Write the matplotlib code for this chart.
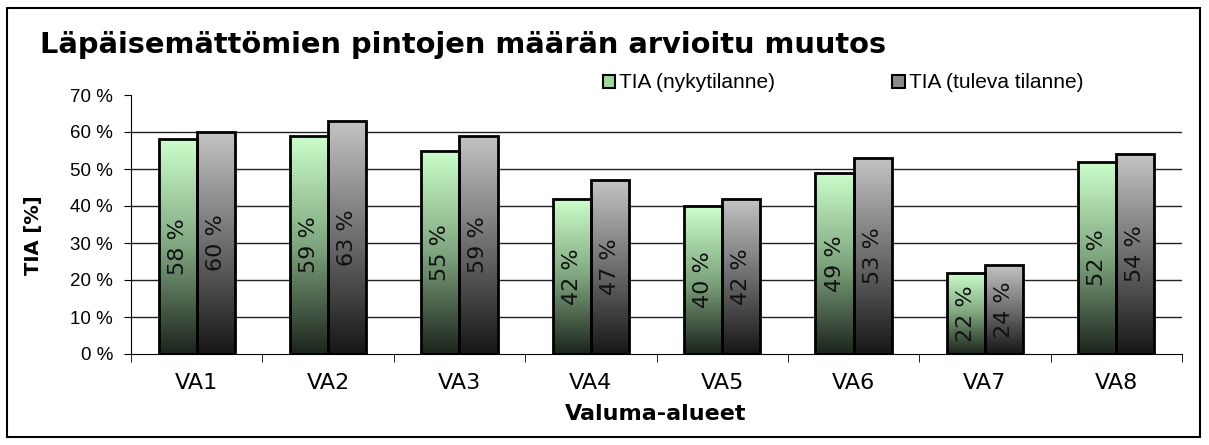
import numpy as np
import matplotlib.pyplot as plt
from matplotlib.colors import LinearSegmentedColormap
from matplotlib.patches import Rectangle

categories = ["VA1", "VA2", "VA3", "VA4", "VA5", "VA6", "VA7", "VA8"]
tia_now = [58, 59, 55, 42, 40, 49, 22, 52]
tia_future = [60, 63, 59, 47, 42, 53, 24, 54]
series_names = ["TIA (nykytilanne)", "TIA (tuleva tilanne)"]

green_cmap = LinearSegmentedColormap.from_list("g", ["#1c241c", "#7fa67f", "#ccffcc"])
gray_cmap = LinearSegmentedColormap.from_list("k", ["#161616", "#6e6e6e", "#c4c4c4"])

W, H = 1209, 445
fig = plt.figure(figsize=(W / 100, H / 100), dpi=100)
ax = fig.add_axes([131 / W, 1 - 354 / H, (1182 - 131) / W, (354 - 95) / H])

# frame around whole chart
fig.patches.append(Rectangle((7 / W, 8 / H), 1193 / W, 429 / H,
                             transform=fig.transFigure, fill=False,
                             edgecolor="black", linewidth=1.5))

x = np.arange(len(categories))
w = 0.29
grad = np.linspace(0, 1, 256).reshape(-1, 1)

def grad_bars(xs, vals, cmap):
    bars = ax.bar(xs, vals, w, facecolor="none", edgecolor="black", linewidth=2, zorder=4)
    for b in bars:
        x0, y0 = b.get_x(), b.get_y()
        im = ax.imshow(grad, cmap=cmap, origin="lower", aspect="auto",
                       extent=[x0, x0 + b.get_width(), y0, y0 + b.get_height()], zorder=3)
        im.set_clip_path(b)
    return bars

b1 = grad_bars(x - w / 2, tia_now, green_cmap)
b2 = grad_bars(x + w / 2, tia_future, gray_cmap)

for bars, vals in ((b1, tia_now), (b2, tia_future)):
    for b, v in zip(bars, vals):
        ax.text(b.get_x() + b.get_width() / 2, v / 2, f"{v} %", rotation=90,
                ha="center", va="center", fontsize=16, color="#111111", zorder=5)

ax.set_xlim(-0.5, len(categories) - 0.5)
ax.set_ylim(0, 70)
for yv in range(10, 70, 10):
    ax.axhline(yv, color="#222222", linewidth=1, zorder=1)

ax.set_yticks(range(0, 71, 10))
ax.set_yticklabels([f"{v} %" for v in range(0, 71, 10)], family="Liberation Sans", fontsize=13.5)
ax.set_xticks(x)
ax.set_xticklabels(categories, fontsize=16)
ax.set_xticks(np.arange(-0.5, len(categories), 1), minor=True)
ax.tick_params(axis="x", which="major", length=0, pad=13.5)
ax.tick_params(axis="x", which="minor", length=6, direction="out", color="black")
ax.tick_params(axis="y", length=5, color="black", pad=8)
ax.spines[["top", "right"]].set_visible(False)

fig.text(656 / W, 1 - 420 / H, "Valuma-alueet", fontsize=16, fontweight="bold",
         ha="center", va="baseline")
fig.text(33 / W, 1 - 235 / H, "TIA [%]", fontsize=14, fontweight="bold",
         rotation=90, ha="center", va="center")

fig.text(40 / W, 1 - 53 / H, "Läpäisemättömien pintojen määrän arvioitu muutos",
         fontsize=20.8, fontweight="bold", va="baseline")

h1 = Rectangle((0, 0), 1, 1, facecolor="#9fd99f", edgecolor="black", linewidth=1.5)
h2 = Rectangle((0, 0), 1, 1, facecolor="#8a8a8a", edgecolor="black", linewidth=1.5)
fig.legend([h1, h2], series_names, loc="center left", bbox_to_anchor=(584 / W, 1 - 83 / H),
           ncol=2, frameon=False, prop={"family": "Liberation Sans", "size": 15},
           handlelength=0.6, handleheight=0.6, handletextpad=0.2, columnspacing=5.6)

fig.savefig("out.png", dpi=100)
